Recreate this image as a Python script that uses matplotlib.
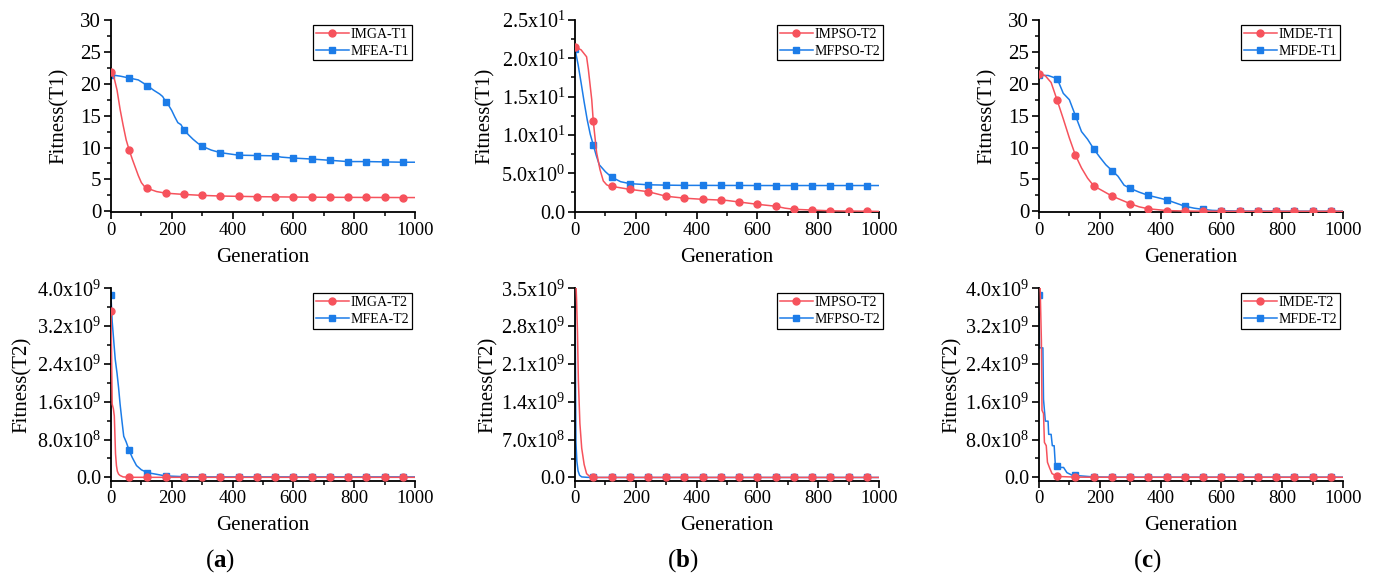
import numpy as np
import matplotlib
matplotlib.use("Agg")
import matplotlib.pyplot as plt
from matplotlib.ticker import MultipleLocator, FuncFormatter

plt.rcParams['font.family'] = ['Liberation Serif', 'DejaVu Serif']
plt.rcParams['mathtext.fontset'] = 'custom'
plt.rcParams['mathtext.rm'] = 'Liberation Serif'
plt.rcParams['mathtext.it'] = 'Liberation Serif:italic'
plt.rcParams['mathtext.bf'] = 'Liberation Serif:bold'

RED = '#F6525C'
BLUE = '#1C7CE8'

TAIL = [120, 180, 240, 300, 360, 420, 480, 540, 600, 660, 720, 780, 840, 900, 960, 1000]

# ---- top row: T1 fitness ----
imga_t1_x = [0, 10, 20, 30, 40, 50, 60, 70, 80, 90, 100, 110, 120, 150, 180, 240, 300, 360,
             420, 480, 540, 600, 660, 720, 780, 840, 900, 960, 1000]
imga_t1_y = [21.8, 21.0, 19.0, 16.0, 13.5, 11.2, 9.6, 8.2, 6.9, 5.6, 4.5, 3.9, 3.6, 3.1, 2.85, 2.65, 2.5, 2.4,
             2.35, 2.3, 2.27, 2.24, 2.22, 2.2, 2.19, 2.18, 2.17, 2.16, 2.16]
mfea_t1_x = [0, 30, 60, 90, 120, 140, 160, 170, 180, 190, 200, 210, 220, 230, 240, 255, 270, 285, 300,
             330, 360, 390, 420, 480, 540, 560, 600, 660, 720, 780, 840, 900, 960, 1000]
mfea_t1_y = [21.4, 21.2, 20.9, 20.6, 19.7, 19.0, 18.4, 18.0, 17.2, 16.6, 15.8, 14.8, 13.9, 13.6, 12.8, 12.0, 11.3, 10.7, 10.2,
             9.6, 9.2, 9.0, 8.8, 8.75, 8.7, 8.5, 8.35, 8.2, 8.0, 7.8, 7.8, 7.75, 7.7, 7.7]

impso_t1_x = [0, 20, 38, 44, 55, 60, 71, 82, 93, 104, 112, 120, 180, 240, 270, 300, 360, 420, 480, 500,
              540, 600, 660, 690, 720, 780, 840, 900, 960, 1000]
impso_t1_y = [21.5, 21.1, 20.2, 18.5, 14.6, 11.8, 7.7, 5.5, 4.0, 3.5, 3.35, 3.3, 2.9, 2.6, 2.3, 2.0, 1.75, 1.6, 1.5, 1.45,
              1.25, 0.95, 0.7, 0.45, 0.3, 0.2, 0.1, 0.07, 0.05, 0.02]
mfpso_t1_x = [0, 10, 20, 30, 40, 50, 60, 70, 80, 100, 120, 150, 180, 240, 300, 360, 420, 480, 540,
              600, 660, 720, 780, 840, 900, 960, 1000]
mfpso_t1_y = [21.2, 19.2, 16.8, 14.3, 12.0, 10.1, 8.7, 7.3, 6.1, 5.2, 4.5, 3.9, 3.65, 3.5, 3.45, 3.42, 3.42, 3.41, 3.41,
              3.4, 3.4, 3.4, 3.4, 3.4, 3.4, 3.4, 3.4]

imde_t1_x = [0, 20, 40, 60, 80, 100, 120, 140, 160, 180, 210, 240, 270, 300, 330, 360, 420, 480, 540,
             600, 660, 720, 780, 840, 900, 960, 1000]
imde_t1_y = [21.5, 21.3, 20.2, 17.4, 14.5, 11.5, 8.8, 6.8, 5.2, 4.0, 3.2, 2.4, 1.8, 1.2, 0.7, 0.4, 0.12, 0.05, 0.02,
             0.01, 0.01, 0.01, 0.01, 0.01, 0.01, 0.01, 0.01]
mfde_t1_x = [0, 30, 60, 80, 100, 120, 140, 160, 180, 200, 220, 240, 260, 280, 300, 330, 360, 420, 450, 480,
             510, 540, 570, 600, 660, 720, 780, 840, 900, 960, 1000]
mfde_t1_y = [21.3, 21.3, 20.8, 18.5, 17.5, 15.0, 12.5, 11.3, 9.8, 8.5, 7.3, 6.4, 5.5, 4.1, 3.6, 3.0, 2.5, 1.8, 1.3, 0.8,
             0.5, 0.3, 0.15, 0.1, 0.05, 0.03, 0.02, 0.02, 0.02, 0.02, 0.02]

# ---- bottom row: T2 fitness (x1e9) ----
imga_t2_x = [0, 2, 4, 8, 11, 13, 15, 18, 21, 25, 30, 40, 60] + TAIL
imga_t2_y = [3.53, 2.6, 1.55, 1.45, 1.3, 0.9, 0.5, 0.25, 0.13, 0.07, 0.04, 0.01, 0.002,
             0.001, 0.001, 0.001, 0.001, 0.001, 0.001, 0.001, 0.001, 0.001, 0.001, 0.001, 0.001, 0.001, 0.001, 0.001, 0.001]
mfea_t2_x = [0, 4, 9, 14, 20, 25, 30, 36, 42, 50, 60, 70, 84, 100] + TAIL
mfea_t2_y = [3.85, 3.3, 2.9, 2.5, 2.2, 1.9, 1.55, 1.2, 0.87, 0.75, 0.57, 0.42, 0.25, 0.16,
             0.1, 0.03, 0.015, 0.01, 0.01, 0.01, 0.01, 0.01, 0.01, 0.01, 0.01, 0.01, 0.01, 0.01, 0.01, 0.01]

impso_t2_x = [0, 3, 5, 8, 11, 16, 22, 30, 38, 50, 60] + TAIL
impso_t2_y = [4.5, 3.6, 3.3, 2.7, 1.8, 1.0, 0.54, 0.24, 0.07, 0.01, 0.0,
              0.0, 0.0, 0.0, 0.0, 0.0, 0.0, 0.0, 0.0, 0.0, 0.0, 0.0, 0.0, 0.0, 0.0, 0.0, 0.0]
mfpso_t2_x = [0, 2, 3, 6, 10, 15, 22, 40, 60] + TAIL
mfpso_t2_y = [3.6, 1.5, 0.65, 0.3, 0.12, 0.04, 0.01, 0.002, 0.0,
              0.0, 0.0, 0.0, 0.0, 0.0, 0.0, 0.0, 0.0, 0.0, 0.0, 0.0, 0.0, 0.0, 0.0, 0.0, 0.0]

imde_t2_x = [0, 4, 8, 10, 15, 18, 24, 28, 35, 43, 60] + TAIL
imde_t2_y = [4.3, 4.0, 2.9, 1.42, 1.35, 0.74, 0.67, 0.32, 0.2, 0.08, 0.02,
             0.005, 0.003, 0.002, 0.002, 0.002, 0.002, 0.002, 0.002, 0.002, 0.002, 0.002, 0.002, 0.002, 0.002, 0.002, 0.002]
mfde_t2_x = [0, 2, 13, 15, 21, 30, 32, 40, 44, 50, 54, 60, 68, 81, 92, 108] + TAIL
mfde_t2_y = [3.85, 2.74, 2.74, 1.65, 1.19, 1.19, 0.91, 0.91, 0.67, 0.67, 0.25, 0.24, 0.21, 0.21, 0.1, 0.05,
             0.04, 0.01, 0.005, 0.005, 0.005, 0.005, 0.005, 0.005, 0.005, 0.005, 0.005, 0.005, 0.005, 0.005, 0.005, 0.005]


def sci_fmt(v, pos):
    if abs(v) < 1e-12:
        return '0.0'
    e = int(np.floor(np.log10(abs(v)) + 1e-9))
    m = v / 10 ** e
    return '%.1fx10$^{%d}$' % (m, e)


def draw(ax, red, blue, labels, ymax, ymajor, ybottom, scale, sci, ylab, ylab_x):
    handles = {}
    for (x, y), color, marker, ms, lab, z in [(blue, BLUE, 's', 4.4, labels[1], 2),
                                             (red, RED, 'o', 5.0, labels[0], 3)]:
        x = np.array(x)
        y = np.array(y) * scale
        idx = [i for i, g in enumerate(x) if g % 60 == 0 and g < 1000]
        handles[lab], = ax.plot(x, y, color=color, lw=1.1, marker=marker, ms=ms, markevery=idx,
                                label=lab, zorder=z)
    ax.set_xlim(0, 1000)
    ax.set_ylim(ybottom * scale, ymax * scale)
    ax.xaxis.set_major_locator(MultipleLocator(200))
    ax.xaxis.set_minor_locator(MultipleLocator(100))
    ax.yaxis.set_major_locator(MultipleLocator(ymajor * scale))
    ax.yaxis.set_minor_locator(MultipleLocator(ymajor * scale / 2))
    if sci:
        ax.yaxis.set_major_formatter(FuncFormatter(sci_fmt))
    for s in ['top', 'right']:
        ax.spines[s].set_visible(False)
    for s in ['left', 'bottom']:
        ax.spines[s].set_linewidth(1.3)
    ax.tick_params(which='major', direction='out', length=5, width=1.2, pad=2)
    ax.tick_params(which='minor', direction='out', length=3, width=1.1)
    ax.tick_params(axis='x', labelsize=13.5)
    ax.tick_params(axis='y', labelsize=15 if not sci else 14.5)
    ax.set_xlabel('Generation', fontsize=15, va='center')
    ax.xaxis.set_label_coords(0.5, -0.235)
    ax.set_ylabel(ylab, fontsize=15, va='center')
    ax.yaxis.set_label_coords(ylab_x, 0.5)
    leg = ax.legend([handles[labels[0]], handles[labels[1]]], labels,
                    loc='upper left', bbox_to_anchor=(0.664, 0.975), borderaxespad=0,
                    fontsize=10, fancybox=False, edgecolor='black', framealpha=1,
                    handlelength=2.4, handletextpad=0.1, labelspacing=0.3, borderpad=0.2)
    leg.get_frame().set_linewidth(0.9)


fig = plt.figure(figsize=(13.75, 5.79), dpi=100)
lefts = [0.0807, 0.4182, 0.7556]
w = 0.2211
top_ax = [fig.add_axes([l, 0.6339, w, 0.3316]) for l in lefts]
bot_ax = [fig.add_axes([l, 0.1698, w, 0.3323]) for l in lefts]

draw(top_ax[0], (imga_t1_x, imga_t1_y), (mfea_t1_x, mfea_t1_y), ['IMGA-T1', 'MFEA-T1'],
     30, 5, -0.1, 1, False, 'Fitness(T1)', -0.171)
draw(top_ax[1], (impso_t1_x, impso_t1_y), (mfpso_t1_x, mfpso_t1_y), ['IMPSO-T2', 'MFPSO-T2'],
     25, 5, -0.05, 1, True, 'Fitness(T1)', -0.296)
draw(top_ax[2], (imde_t1_x, imde_t1_y), (mfde_t1_x, mfde_t1_y), ['IMDE-T1', 'MFDE-T1'],
     30, 5, -0.1, 1, False, 'Fitness(T1)', -0.171)

draw(bot_ax[0], (imga_t2_x, imga_t2_y), (mfea_t2_x, mfea_t2_y), ['IMGA-T2', 'MFEA-T2'],
     4.0, 0.8, -0.07, 1e9, True, 'Fitness(T2)', -0.293)
draw(bot_ax[1], (impso_t2_x, impso_t2_y), (mfpso_t2_x, mfpso_t2_y), ['IMPSO-T2', 'MFPSO-T2'],
     3.5, 0.7, -0.06, 1e9, True, 'Fitness(T2)', -0.286)
draw(bot_ax[2], (imde_t2_x, imde_t2_y), (mfde_t2_x, mfde_t2_y), ['IMDE-T2', 'MFDE-T2'],
     4.0, 0.8, -0.07, 1e9, True, 'Fitness(T2)', -0.286)

for xc, letter in [(220, 'a'), (683, 'b'), (1147, 'c')]:
    fig.text(xc / 1375, 1 - 561 / 579, r'($\mathbf{%s}$)' % letter, fontsize=18,
             ha='center', va='center')

fig.savefig('out.png', dpi=100)
